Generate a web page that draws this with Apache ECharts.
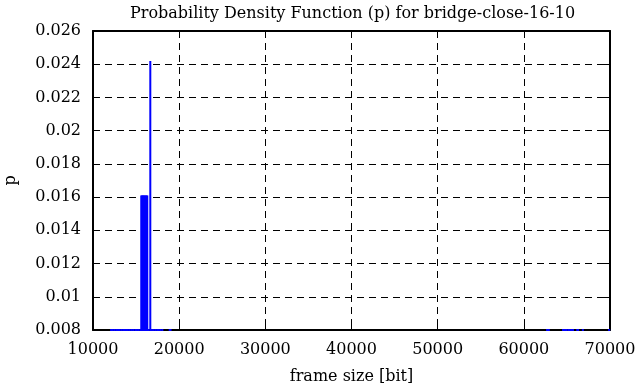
<!DOCTYPE html>
<html>
<head>
<meta charset="utf-8">
<script src="https://cdn.jsdelivr.net/npm/echarts@6/dist/echarts.min.js"></script>
<style>html,body{margin:0;padding:0;background:#fff}#c{width:637px;height:387px}</style>
</head>
<body>
<div id="c"></div>
<script>
const titleText = 'Probability Density Function (p) for bridge-close-16-10';
const xName = 'frame size [bit]';
const yName = 'p';
const X_MIN = 10000, X_MAX = 70000, X_STEP = 10000;
const Y_MIN = 0.008, Y_MAX = 0.026, Y_STEP = 0.002;

// frame sizes (bit) and probabilities
const frameSizes = [
  12100, 12300, 12500, 12700, 12900, 13100, 13300, 13500, 13700,
  13850, 14050, 14250, 14450, 14650,
  14900, 15100, 15300, 15500,
  15600, 15700, 15800, 15900, 16000, 16100, 16200, 16300,
  16650,
  16450, 16850, 17050, 17250, 17450, 17650, 17850, 18050,
  18900, 19000,
  62700, 62900, 64550, 64750, 64900, 65150, 65350, 65550, 65700,
  66200, 66300, 66850, 69900
];
const probabilities = [
  0.0004, 0.0004, 0.0004, 0.0004, 0.0004, 0.0004, 0.0004, 0.0004, 0.0004,
  0.0004, 0.0004, 0.0004, 0.0004, 0.0004,
  0.0004, 0.0004, 0.0004, 0.0004,
  0.0161, 0.0161, 0.0161, 0.0161, 0.0161, 0.0161, 0.0161, 0.0161,
  0.0242,
  0.0004, 0.0004, 0.0004, 0.0004, 0.0004, 0.0004, 0.0004, 0.0004,
  0.0004, 0.0004,
  0.0002, 0.0002, 0.0002, 0.0002, 0.0002, 0.0002, 0.0002, 0.0002, 0.0002,
  0.0002, 0.0002, 0.0002, 0.0002
];

const data = frameSizes.map((x, i) => [x, probabilities[i]]);
const FONT = 'DejaVu Serif';
const FS = 16;
const chart = echarts.init(document.getElementById('c'), null, {renderer: 'canvas'});
const fmtY = v => String(parseFloat(v.toFixed(4)));
const fmtX = v => String(Math.round(v));
const gridLine = {show: true, lineStyle: {color: '#000', type: [7, 5], width: 1}};
chart.setOption({
  animation: false,
  backgroundColor: '#fff',
  title: {
    text: titleText, left: 125, top: 1,
    textStyle: {fontFamily: FONT, fontWeight: 'normal', fontSize: FS, color: '#000'}
  },
  grid: {left: 93, right: 27, top: 31, bottom: 57, containLabel: false, outerBoundsMode: 'none'},
  xAxis: [{
    type: 'value', min: X_MIN, max: X_MAX, interval: X_STEP,
    name: xName, nameLocation: 'middle', nameGap: 39,
    nameTextStyle: {fontFamily: FONT, fontSize: FS, color: '#000'},
    axisLine: {show: true, onZero: false, lineStyle: {color: '#000', width: 2}},
    axisTick: {show: true, inside: true, length: 6, lineStyle: {color: '#000', width: 1}},
    axisLabel: {fontFamily: FONT, fontSize: FS, color: '#000', margin: 12, formatter: fmtX},
    splitLine: gridLine
  }, {
    type: 'value', position: 'top', min: X_MIN, max: X_MAX, interval: X_STEP,
    axisLine: {show: true, onZero: false, lineStyle: {color: '#000', width: 2}},
    axisTick: {show: true, inside: true, length: 6, lineStyle: {color: '#000'}},
    axisLabel: {show: false}, splitLine: {show: false}
  }],
  yAxis: [{
    type: 'value', min: Y_MIN, max: Y_MAX, interval: Y_STEP,
    name: yName, nameLocation: 'middle', nameGap: 74, nameRotate: 90,
    nameTextStyle: {fontFamily: FONT, fontSize: FS, color: '#000'},
    axisLine: {show: true, onZero: false, lineStyle: {color: '#000', width: 2}},
    axisTick: {show: true, inside: true, length: 6, lineStyle: {color: '#000'}},
    axisLabel: {fontFamily: FONT, fontSize: FS, color: '#000', margin: 12, formatter: fmtY},
    splitLine: gridLine
  }, {
    type: 'value', position: 'right', min: Y_MIN, max: Y_MAX, interval: Y_STEP,
    axisLine: {show: true, onZero: false, lineStyle: {color: '#000', width: 2}},
    axisTick: {show: true, inside: true, length: 6, lineStyle: {color: '#000'}},
    axisLabel: {show: false}, splitLine: {show: false}
  }],
  series: [{
    type: 'custom',
    xAxisIndex: 0, yAxisIndex: 0,
    z: 10,
    clip: false,
    data: data,
    renderItem: function (params, api) {
      const x = api.value(0), v = api.value(1);
      const top = api.coord([x, Math.max(v, Y_MIN)]);
      const base = api.coord([x, Y_MIN]);
      const h = Math.max(base[1] - top[1] + 1, 2);
      return {
        type: 'rect',
        shape: {x: top[0] - 1, y: base[1] + 1 - h, width: 2, height: h},
        style: {fill: '#0000ff'}
      };
    }
  }]
});
</script>
</body>
</html>
